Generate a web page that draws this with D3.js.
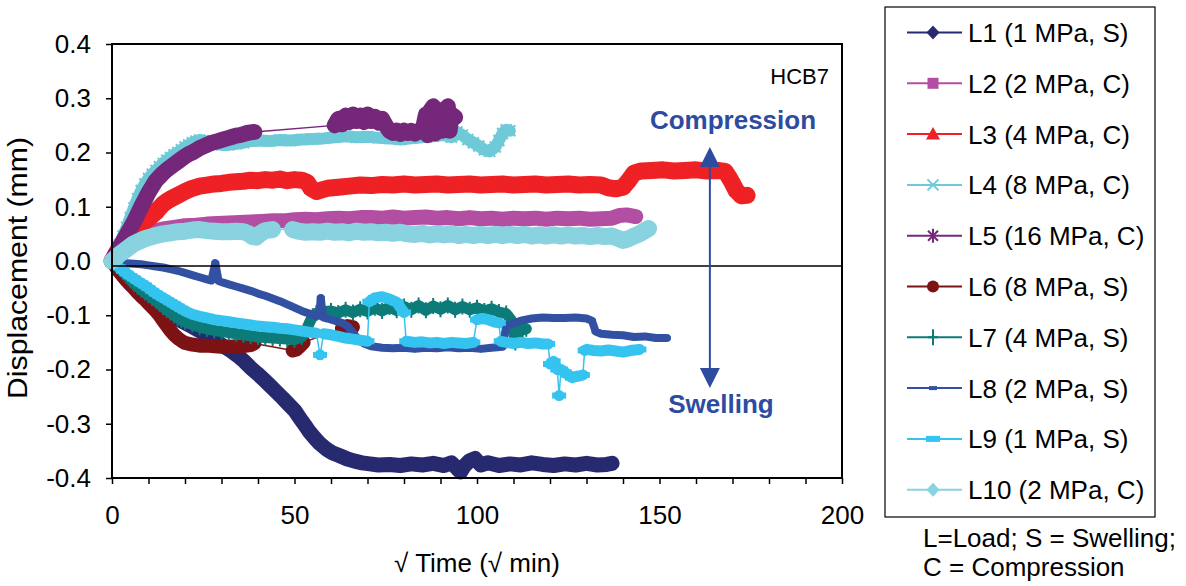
<!DOCTYPE html>
<html>
<head>
<meta charset="utf-8">
<script src="https://cdn.jsdelivr.net/npm/d3@7"></script>
<style>
  body { margin: 0; background: #fff; }
  text { font-family: "Liberation Sans", Arial, sans-serif; }
</style>
</head>
<body>
<svg id="chart" width="1186" height="586"></svg>
<script>
// values: [sqrt time, displacement]; null = gap in the marker band
var l1 = [[0,0],[2,-0.016],[3.6,-0.031],[5.5,-0.045],[7.7,-0.059],[9.7,-0.07],[11.8,-0.081],[14,-0.092],[15.9,-0.1],[18,-0.107],[20,-0.114],[22,-0.121],[24.1,-0.129],[26,-0.137],[28.2,-0.146],[30,-0.155],[32.3,-0.164],[34.5,-0.175],[36.4,-0.186],[38,-0.197],[39.9,-0.208],[41.5,-0.218],[43.2,-0.229],[45,-0.241],[46.8,-0.253],[48.5,-0.265],[50.1,-0.276],[51.5,-0.29],[52.8,-0.302],[54,-0.314],[55.5,-0.326],[57,-0.337],[58.8,-0.347],[60.5,-0.354],[62.4,-0.359],[64.5,-0.365],[66.5,-0.369],[68.5,-0.372],[70.6,-0.374],[73,-0.376],[76,-0.375],[79,-0.377],[82,-0.374],[85,-0.376],[88,-0.373],[91,-0.377],[93,-0.372],[94.5,-0.382],[95.5,-0.389],[96.5,-0.378],[98,-0.368],[99.5,-0.364],[101,-0.376],[103,-0.372],[106,-0.377],[109,-0.374],[112,-0.376],[115,-0.372],[118,-0.375],[121,-0.377],[124,-0.374],[127,-0.376],[130,-0.373],[133,-0.376],[135.5,-0.375],[137,-0.373]];
var l2 = [[0,0],[1.5,0.012],[3,0.024],[4.5,0.033],[6,0.04],[8,0.047],[10,0.052],[12,0.056],[14,0.059],[17,0.062],[20,0.065],[23,0.066],[26,0.068],[29,0.069],[32,0.07],[35,0.071],[38,0.072],[41,0.073],[44,0.074],[47,0.074],[50,0.076],[53,0.077],[56,0.076],[59,0.078],[62,0.079],[65,0.078],[68,0.08],[71,0.08],[74,0.079],[77,0.081],[80,0.079],[83,0.08],[86,0.081],[89,0.079],[92,0.08],[95,0.078],[98,0.08],[101,0.078],[104,0.079],[107,0.077],[110,0.079],[113,0.078],[116,0.079],[119,0.077],[122,0.079],[125,0.078],[128,0.079],[131,0.077],[134,0.078],[137,0.079],[139,0.084],[141,0.085],[143.5,0.082]];
var l3 = [[0,0],[1,0.012],[2,0.024],[3,0.034],[4,0.042],[5,0.05],[6,0.058],[7,0.063],[8,0.068],[9,0.073],[10,0.078],[11,0.084],[12,0.09],[13,0.098],[14,0.105],[15,0.11],[16,0.114],[18,0.121],[20,0.128],[22,0.134],[24,0.138],[26,0.14],[28,0.142],[30,0.143],[32,0.145],[34,0.146],[36,0.147],[38,0.149],[40,0.148],[42,0.15],[44,0.149],[46,0.151],[48,0.148],[50,0.15],[52,0.149],[53.5,0.145],[54.5,0.134],[56,0.128],[57.5,0.131],[59,0.134],[62,0.136],[65,0.138],[68,0.14],[71,0.139],[74,0.141],[77,0.14],[80,0.142],[83,0.14],[86,0.141],[89,0.142],[92,0.14],[95,0.141],[98,0.142],[101,0.14],[104,0.141],[107,0.142],[110,0.14],[113,0.141],[116,0.142],[119,0.14],[122,0.141],[125,0.142],[128,0.14],[131,0.141],[134,0.14],[136,0.135],[138,0.133],[140,0.136],[141.5,0.148],[143,0.162],[145,0.166],[148,0.167],[151,0.168],[154,0.166],[157,0.167],[160,0.168],[163,0.166],[166,0.167],[168,0.165],[169,0.155],[170,0.143],[171,0.13],[172.5,0.12],[174,0.121]];
var l4 = [[0,0],[1,0.015],[2,0.03],[3,0.046],[4,0.062],[5,0.08],[6,0.098],[7,0.115],[8,0.13],[9,0.142],[10,0.152],[11,0.16],[12,0.167],[13,0.174],[14,0.18],[15,0.186],[16,0.191],[17,0.196],[18,0.2],[19,0.205],[20,0.21],[21,0.214],[22,0.218],[23,0.221],[24,0.223],[25,0.222],[26,0.219],[28,0.216],[30,0.214],[32,0.214],[34,0.216],[36,0.218],[38,0.221],[40,0.222],[43,0.221],[46,0.223],[49,0.222],[52,0.224],[55,0.225],[58,0.226],[61,0.228],[64,0.23],[67,0.228],[70,0.229],[73,0.227],[76,0.226],[79,0.224],[82,0.226],[85,0.228],[88,0.23],[91,0.232],[93,0.228],[94.5,0.238],[96,0.232],[97.5,0.224],[99,0.218],[100.5,0.212],[102,0.205],[103.5,0.202],[105,0.21],[106,0.222],[107,0.235],[108,0.242],[109,0.24]];
var l5 = [[0,0],[1,0.012],[2,0.024],[3,0.036],[4,0.048],[5,0.06],[6,0.072],[7,0.086],[8,0.1],[9,0.113],[10,0.126],[11,0.137],[12,0.148],[13,0.155],[14,0.162],[15,0.168],[16,0.173],[17,0.178],[18,0.183],[19,0.188],[20,0.193],[21,0.197],[22,0.2],[23,0.204],[24,0.208],[25,0.211],[26,0.214],[27,0.217],[28,0.219],[29,0.221],[30,0.223],[31,0.225],[32,0.227],[33,0.229],[34,0.231],[35,0.232],[36,0.234],[37,0.236],[38,0.237],[39,0.238],null,[61,0.25],[62,0.262],[63,0.252],[64,0.268],[65,0.256],[66,0.27],[67,0.258],[68,0.268],[69,0.256],[70,0.27],[71,0.258],[72,0.266],[73,0.255],[74,0.262],[75,0.25],[76,0.24],[77,0.236],[78,0.24],[79,0.234],[80,0.24],[81,0.236],[82,0.24],[83,0.235],[84,0.24],[85,0.238],[86,0.27],[86.5,0.232],[87,0.275],[88,0.285],[88.5,0.235],[89,0.27],[90,0.278],[90.5,0.24],[91,0.275],[92,0.285],[92.5,0.24],[93,0.27],[94,0.265]];
var l6 = [[0,0],[1,-0.01],[2,-0.02],[3,-0.028],[4,-0.036],[5,-0.043],[6,-0.05],[7,-0.058],[8,-0.065],[9,-0.071],[10,-0.078],[11,-0.085],[12,-0.092],[13,-0.1],[14,-0.11],[15,-0.119],[16,-0.128],[17,-0.136],[18,-0.142],[19,-0.147],[20,-0.151],[22,-0.154],[24,-0.156],[26,-0.156],[28,-0.157],[30,-0.158],[32,-0.158],[34,-0.157],[36,-0.157],[38,-0.155],[39,-0.152],null,[49.5,-0.165],[50.5,-0.163],[51.5,-0.157],[52.5,-0.15],null,[63,-0.124],[64.5,-0.12],[66,-0.122]];
var l7 = [[0,0],[1,-0.006],[2,-0.013],[3,-0.02],[4,-0.027],[5,-0.034],[6,-0.042],[7,-0.047],[8,-0.053],[9,-0.058],[10,-0.063],[11,-0.068],[12,-0.073],[13,-0.079],[14,-0.085],[15,-0.09],[16,-0.095],[17,-0.1],[18,-0.105],[19,-0.109],[20,-0.112],[22,-0.117],[24,-0.122],[26,-0.125],[28,-0.128],[30,-0.13],[32,-0.132],[34,-0.134],[36,-0.136],[38,-0.138],[40,-0.14],[42,-0.141],[44,-0.142],[46,-0.143],[48,-0.144],[50,-0.145],[52,-0.14],[53,-0.13],[54,-0.115],[55,-0.102],[56,-0.096],[58,-0.093],[60,-0.092],[62,-0.096],[64,-0.09],[66,-0.095],[68,-0.089],[70,-0.093],[72,-0.086],[74,-0.092],[76,-0.085],[78,-0.091],[80,-0.084],[82,-0.09],[84,-0.082],[86,-0.091],[88,-0.083],[90,-0.089],[92,-0.082],[94,-0.09],[96,-0.084],[98,-0.09],[100,-0.086],[102,-0.092],[104,-0.088],[106,-0.094],[108,-0.097],[109.5,-0.11],[110.5,-0.15],[111.5,-0.124],[112.5,-0.127],[113.5,-0.125]];
var l8 = [[0,0],[2,-0.003],[4,-0.004],[6,-0.005],[8,-0.006],[10,-0.008],[12,-0.01],[14,-0.012],[16,-0.015],[18,-0.018],[20,-0.022],[22,-0.026],[24,-0.03],[26,-0.034],[27.2,-0.036],[28.3,-0.004],[29.2,-0.037],[30.5,-0.04],[32,-0.043],[34,-0.047],[36,-0.051],[38,-0.055],[40,-0.06],[42,-0.064],[44,-0.069],[46,-0.074],[48,-0.08],[50,-0.086],[52,-0.092],[54,-0.097],[56,-0.102],[56.8,-0.1],[57.2,-0.068],[57.8,-0.104],[59,-0.106],[61,-0.11],[63,-0.114],[64.5,-0.12],[66,-0.132],[67.5,-0.145],[69,-0.152],[71,-0.157],[74,-0.16],[77,-0.161],[80,-0.16],[83,-0.162],[86,-0.16],[89,-0.161],[92,-0.159],[95,-0.161],[98,-0.16],[101,-0.162],[104,-0.16],[107,-0.158],[108,-0.12],[110,-0.115],[112,-0.11],[115,-0.106],[118,-0.104],[121,-0.105],[124,-0.105],[127,-0.104],[130,-0.106],[131.5,-0.11],[132.5,-0.13],[134,-0.134],[137,-0.136],[140,-0.137],[143,-0.14],[146,-0.139],[149,-0.142],[152,-0.142]];
var l9 = [[0,0],[1,-0.006],[2,-0.012],[3,-0.018],[4,-0.023],[5,-0.028],[6,-0.032],[7,-0.037],[8,-0.041],[9,-0.045],[10,-0.05],[11,-0.055],[12,-0.06],[13,-0.064],[14,-0.068],[15,-0.072],[16,-0.076],[17,-0.08],[18,-0.084],[19,-0.088],[20,-0.092],[22,-0.098],[24,-0.102],[26,-0.105],[28,-0.108],[30,-0.11],[32,-0.112],[34,-0.114],[36,-0.116],[38,-0.118],[40,-0.12],[42,-0.121],[44,-0.122],[46,-0.124],[48,-0.125],[50,-0.127],[52,-0.129],[54,-0.131],[56,-0.133],null,[57,-0.173],null,[58,-0.134],[60,-0.136],[62,-0.139],[64,-0.142],[66,-0.144],[68,-0.146],[70,-0.148],null,[70.5,-0.075],[72,-0.068],[74,-0.066],[76,-0.07],[78,-0.076],[80,-0.095],null,[80.6,-0.148],[83,-0.15],[85,-0.149],[87,-0.151],[89,-0.15],[91,-0.152],[93,-0.15],[95,-0.151],[97,-0.152],[99,-0.15],null,[100,-0.108],[101.5,-0.106],[103,-0.108],[104.5,-0.112],[106,-0.114],null,[106.5,-0.148],[108,-0.15],[110,-0.152],[112,-0.15],[114,-0.152],[116,-0.151],[118,-0.153],[119.5,-0.153],null,[120,-0.19],[121,-0.185],[122,-0.2],null,[122.5,-0.248],null,[123,-0.2],[124,-0.205],[125,-0.21],[126,-0.215],[127,-0.213],[128,-0.212],[129,-0.21],null,[129.5,-0.165],[130,-0.163],[132,-0.165],[134,-0.166],[136,-0.164],[138,-0.166],[140,-0.168],[142,-0.165],[144.5,-0.163]];
var l10 = [[0,0],[1,0.006],[2,0.012],[3,0.017],[4,0.022],[5,0.027],[6,0.032],[7,0.035],[8,0.038],[9,0.041],[10,0.043],[11,0.045],[12,0.047],[14,0.05],[16,0.052],[18,0.054],[20,0.055],[22,0.057],[24,0.058],[26,0.056],[28,0.055],[30,0.054],[32,0.054],[34,0.055],[36,0.054],[37.5,0.05],[38.5,0.045],[39.5,0.044],[40.5,0.05],[42,0.056],[44,0.058],null,[49.5,0.058],[51,0.055],[53,0.053],[55,0.054],[57,0.053],[59,0.055],[61,0.053],[63,0.054],[65,0.052],[67,0.055],[69,0.053],[71,0.054],[73,0.052],[75,0.053],[77,0.051],[79,0.053],[81,0.05],[83,0.049],[85,0.051],[87,0.048],[89,0.05],[91,0.048],[93,0.05],[95,0.047],[97,0.049],[99,0.047],[101,0.049],[103,0.047],[105,0.049],[107,0.047],[109,0.049],[111,0.047],[113,0.049],[115,0.046],[117,0.048],[119,0.046],[121,0.048],[123,0.046],[125,0.048],[127,0.046],[129,0.047],[131,0.045],[133,0.047],[135,0.045],[137,0.046],[138.5,0.042],[140,0.038],[141.5,0.041],[143,0.046],[144.5,0.05],[146,0.056],[147,0.06]];

var seriesData = [l1, l2, l3, l4, l5, l6, l7, l8, l9, l10];
var seriesNames = ["L1 (1 MPa, S)", "L2 (2 MPa, C)", "L3 (4 MPa, C)", "L4 (8 MPa, C)", "L5 (16 MPa, C)",
                   "L6 (8 MPa, S)", "L7 (4 MPa, S)", "L8 (2 MPa, S)", "L9 (1 MPa, S)", "L10 (2 MPa, C)"];
var yTicks = [-0.4, -0.3, -0.2, -0.1, 0, 0.1, 0.2, 0.3, 0.4];
var xTicks = [0, 10, 20, 30, 40, 50, 60, 70, 80, 90, 100, 110, 120, 130, 140, 150, 160, 170, 180, 190, 200];
var xLabels = [0, 50, 100, 150, 200];
var baseline = -0.009;        // the drawn horizontal line sits a hair under 0
var arrowAt = [163.8, 0.21, -0.234];   // x, top tip, bottom tip

// styles
var colors = ["#272A6F", "#B24FA2", "#EE2124", "#6FCAD8", "#75287A", "#7D1315", "#0D7B78", "#3351A3", "#35C3EF", "#89D2DF"];
var markers = ["diamond", "square", "triangle", "cross", "star", "circle", "plus", "dashS", "dashL", "diamond"];
var bandWidth = [15, 15, 17, 12, 16, 14, 11, 8, 11, 17];
var markerPaths = {
  diamond: "M0,-7L6.5,0L0,7L-6.5,0Z",
  square: "M-5.5,-5.5h11v11h-11Z",
  triangle: "M0,-7L7,5.5L-7,5.5Z",
  cross: "M-5.5,-5.5L5.5,5.5M5.5,-5.5L-5.5,5.5",
  star: "M-5,-5L5,5M5,-5L-5,5M0,-7V7",
  circle: "M6,0A6,6 0 1,1 -6,0A6,6 0 1,1 6,0Z",
  plus: "M0,-8V8M-5,0H5",
  dashS: "M-4,-2h8v4h-8Z",
  dashL: "M-7,-3h14v6h-14Z"
};
var strokedMarker = { cross: true, star: true, plus: true };
var blue = "#2D4C9F";

var svg = d3.select("#chart");
var x = d3.scaleLinear().domain([0, 200]).range([112, 842]);
var y = d3.scaleLinear().domain([-0.4, 0.4]).range([478, 44]);

function styleMarker(sel, i) {
  var m = markers[i];
  sel.attr("d", markerPaths[m]);
  if (strokedMarker[m]) {
    sel.attr("fill", "none").attr("stroke", colors[i]).attr("stroke-width", 2);
  } else {
    sel.attr("fill", colors[i]).attr("stroke", "none");
  }
}

// axes
var yAxis = d3.axisLeft(y).tickValues(yTicks).tickSize(6).tickPadding(15)
  .tickFormat(function(d) { return d.toFixed(1); });
var xAxis = d3.axisBottom(x).tickValues(xTicks).tickSize(6).tickPadding(22)
  .tickFormat(function(d) { return xLabels.indexOf(d) >= 0 ? d : ""; });

var gy = svg.append("g").attr("transform", "translate(" + x(0) + ",0)").call(yAxis);
var gx = svg.append("g").attr("transform", "translate(0," + y(-0.4) + ")").call(xAxis);
[gx, gy].forEach(function(g) {
  g.select(".domain").remove();
  g.selectAll(".tick line").attr("stroke", "#000").attr("stroke-width", 1.5);
  g.selectAll(".tick text").attr("fill", "#000").style("font-size", "26px")
    .style("font-family", "'Liberation Sans', Arial, sans-serif");
});

// series
var band = d3.line().defined(function(d) { return d !== null; })
  .x(function(d) { return x(d[0]); }).y(function(d) { return y(d[1]); });
var thin = d3.line().x(function(d) { return x(d[0]); }).y(function(d) { return y(d[1]); });

seriesData.forEach(function(data, i) {
  var pts = data.filter(function(d) { return d !== null; });
  var g = svg.append("g");
  g.append("path").attr("d", band(data)).attr("fill", "none").attr("stroke", colors[i])
    .attr("stroke-width", bandWidth[i]).attr("stroke-linejoin", "round").attr("stroke-linecap", "round");
  g.append("path").attr("d", thin(pts)).attr("fill", "none").attr("stroke", colors[i]).attr("stroke-width", 1.5);
  g.selectAll("path.m").data(pts).enter().append("path").attr("class", "m")
    .attr("transform", function(d) { return "translate(" + x(d[0]) + "," + y(d[1]) + ")"; })
    .call(styleMarker, i);
});

// horizontal reference line and plot frame
svg.append("line").attr("x1", x(0)).attr("x2", x(200)).attr("y1", y(baseline)).attr("y2", y(baseline))
  .attr("stroke", "#000").attr("stroke-width", 1.5);
svg.append("rect").attr("x", x(0)).attr("y", y(0.4)).attr("width", x(200) - x(0)).attr("height", y(-0.4) - y(0.4))
  .attr("fill", "none").attr("stroke", "#000").attr("stroke-width", 2);

// arrow
var ax = x(arrowAt[0]);
svg.append("line").attr("x1", ax).attr("x2", ax).attr("y1", y(arrowAt[1]) + 15).attr("y2", y(arrowAt[2]) - 15)
  .attr("stroke", blue).attr("stroke-width", 2);
svg.append("path").attr("d", "M" + ax + "," + y(arrowAt[1]) + "l10,20h-20Z").attr("fill", blue);
svg.append("path").attr("d", "M" + ax + "," + y(arrowAt[2]) + "l10,-20h-20Z").attr("fill", blue);

svg.append("text").attr("x", 733).attr("y", 129).attr("text-anchor", "middle")
  .attr("fill", blue).style("font-size", "26px").style("font-weight", "bold").text("Compression");
svg.append("text").attr("x", 721).attr("y", 413).attr("text-anchor", "middle")
  .attr("fill", blue).style("font-size", "26px").style("font-weight", "bold").text("Swelling");
svg.append("text").attr("x", 829).attr("y", 84).attr("text-anchor", "end")
  .style("font-size", "22px").text("HCB7");

// axis titles
svg.append("text").attr("x", 477).attr("y", 572).attr("text-anchor", "middle")
  .style("font-size", "26px").text("\u221A Time (\u221A min)");
svg.append("text").attr("transform", "translate(27,268) rotate(-90)").attr("text-anchor", "middle")
  .style("font-size", "28px").attr("textLength", 262).attr("lengthAdjust", "spacingAndGlyphs")
  .text("Displacement (mm)");

// legend
svg.append("rect").attr("x", 885).attr("y", 7).attr("width", 270).attr("height", 510)
  .attr("fill", "#fff").attr("stroke", "#000").attr("stroke-width", 1.2);
var leg = svg.selectAll("g.leg").data(seriesNames).enter().append("g").attr("class", "leg")
  .attr("transform", function(d, i) { return "translate(0," + (42 + i * 50.8) + ")"; });
leg.append("line").attr("x1", 907).attr("x2", 962).attr("y1", -9.5).attr("y2", -9.5)
  .attr("stroke", function(d, i) { return colors[i]; }).attr("stroke-width", 2);
leg.append("path").attr("transform", "translate(933,-9.5)")
  .each(function(d, i) { d3.select(this).call(styleMarker, i); });
leg.append("text").attr("x", 968).attr("y", 0).style("font-size", "26px").text(function(d) { return d; });

svg.append("text").attr("x", 923).attr("y", 547).style("font-size", "26px").text("L=Load; S = Swelling;");
svg.append("text").attr("x", 923).attr("y", 576).style("font-size", "26px").text("C = Compression");
</script>
</body>
</html>
